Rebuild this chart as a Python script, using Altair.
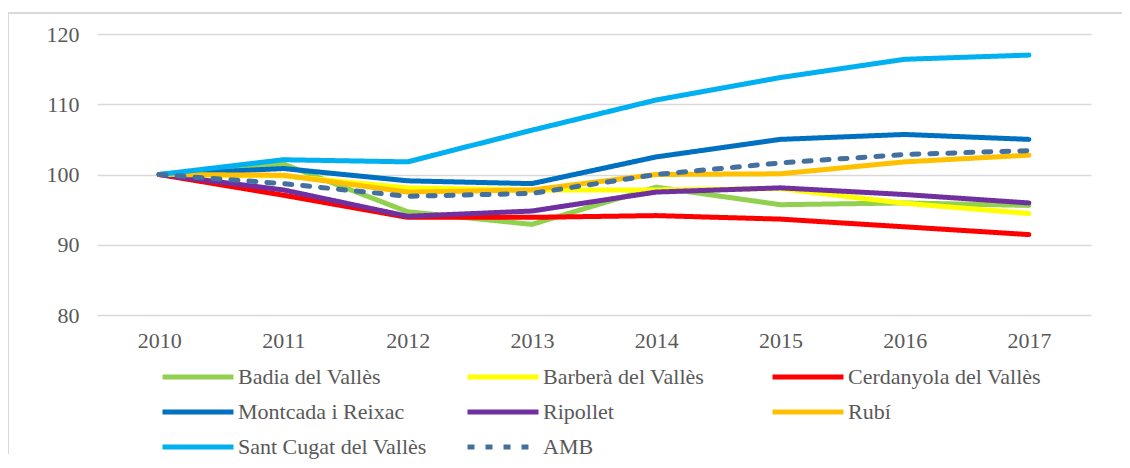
import altair as alt
import pandas as pd

years = ["2010", "2011", "2012", "2013", "2014", "2015", "2016", "2017"]
series_names = ["Badia del Vallès", "Barberà del Vallès", "Cerdanyola del Vallès",
                "Montcada i Reixac", "Ripollet", "Rubí", "Sant Cugat del Vallès", "AMB"]
colors = ["#92D050", "#FFFF00", "#FF0000", "#0070C0", "#7030A0", "#FFC000", "#00B0F0", "#44709D"]

badia = [100, 101.5, 94.7, 92.9, 98.2, 95.7, 95.95, 95.6]
barbera = [100, 99.8, 98.1, 97.8, 97.8, 98.0, 95.9, 94.45]
cerdanyola = [100, 97.05, 93.9, 93.9, 94.15, 93.65, 92.55, 91.45]
montcada = [100, 100.85, 99.1, 98.7, 102.5, 105.0, 105.7, 105.0]
ripollet = [100, 97.8, 94.05, 94.8, 97.5, 98.1, 97.15, 95.95]
rubi = [100, 99.9, 97.5, 97.8, 100.0, 100.1, 101.8, 102.75]
santcugat = [100, 102.1, 101.8, 106.3, 110.6, 113.8, 116.4, 117.0]
amb = [100, 98.7, 96.9, 97.3, 100.0, 101.65, 102.85, 103.4]

values = [badia, barbera, cerdanyola, montcada, ripollet, rubi, santcugat, amb]
rows = []
for name, vals in zip(series_names, values):
    for y, v in zip(years, vals):
        rows.append({"year": y, "value": v, "series": name})
df = pd.DataFrame(rows)

FONT = "Liberation Serif"
GREY = "#595959"
GRID = "#D9D9D9"

dashes = [[1, 0]] * 7 + [[7, 11]]

lines = alt.Chart(df).mark_line(strokeWidth=5, strokeCap="round", strokeJoin="round").encode(
    x=alt.X("year:O", sort=years, title=None,
            axis=alt.Axis(labelAngle=0, domain=False, ticks=False, labelPadding=15,
                          labelFontSize=22, labelColor=GREY, labelFont=FONT)),
    y=alt.Y("value:Q", title=None, scale=alt.Scale(domain=[80, 120], nice=False, zero=False),
            axis=alt.Axis(values=[80, 90, 100, 110, 120], domain=False, ticks=False,
                          labelPadding=18, labelFontSize=22, labelColor=GREY, labelFont=FONT,
                          gridColor=GRID, gridWidth=1.5)),
    color=alt.Color("series:N", sort=series_names,
                    scale=alt.Scale(domain=series_names, range=colors),
                    legend=alt.Legend(title=None)),
    strokeDash=alt.StrokeDash("series:N", sort=series_names,
                              scale=alt.Scale(domain=series_names, range=dashes),
                              legend=alt.Legend(title=None)),
)

border_left = alt.Chart(df).mark_rule(color=GRID, strokeWidth=1.5).encode(
    x=alt.value(-89), y=alt.value(-21), y2=alt.value(420)
)
border_top = alt.Chart(df).mark_rule(color=GRID, strokeWidth=1.5).encode(
    x=alt.value(-89), x2=alt.value(1030), y=alt.value(-21)
)

chart = alt.layer(border_left, border_top, lines).properties(
    width=994, height=281,
    autosize=alt.AutoSizeParams(type="none"),
    padding={"left": 89, "top": 26, "right": 31, "bottom": 145},
).configure_view(stroke=None).configure_legend(
    orient="none", legendX=63, legendY=331, columns=3, gridAlign="all",
    direction="horizontal", clipHeight=24,
    symbolType="stroke", symbolSize=5041, symbolStrokeWidth=5,
    labelFontSize=22, labelFont=FONT, labelColor=GREY, labelOffset=2,
    columnPadding=33, rowPadding=11, labelLimit=400,
)

chart.save("out.html", embed_options={"renderer": "svg", "actions": False})
